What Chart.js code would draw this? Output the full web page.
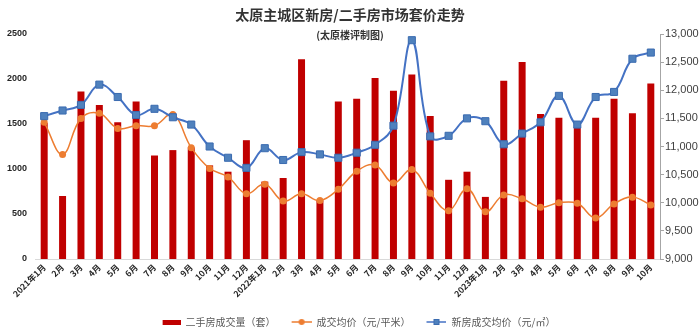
<!DOCTYPE html>
<html><head><meta charset="utf-8">
<script src="https://cdn.jsdelivr.net/npm/chart.js@4.4.0/dist/chart.umd.min.js"></script>
<style>html,body{margin:0;padding:0;background:#fff;}#wrap{position:relative;width:700px;height:330px;}</style>
</head><body><div id="wrap"><canvas id="c" width="700" height="330"></canvas></div>
<script>
const chartTitle = '太原主城区新房/二手房市场套价走势';
const chartSubtitle = '(太原楼评制图)';
const categories = ['2021年1月','2月','3月','4月','5月','6月','7月','8月','9月','10月','11月','12月',
  '2022年1月','2月','3月','4月','5月','6月','7月','8月','9月','10月','11月','12月',
  '2023年1月','2月','3月','4月','5月','6月','7月','8月','9月','10月'];
const seriesNames = ['二手房成交量（套）','成交均价（元/平米）','新房成交均价（元/㎡）'];
const secondHandVolume = [1510,700,1860,1710,1520,1750,1150,1210,1240,1040,970,1320,
  860,900,2220,650,1750,1780,2010,1870,2050,1590,880,970,
  690,1980,2190,1610,1570,1460,1570,1780,1620,1950];
const avgPrice = [11430,10860,11500,11590,11320,11370,11370,11570,10980,10610,10460,10160,
  10330,10030,10160,10040,10240,10560,10670,10350,10590,10170,9860,10250,
  9840,10140,10070,9920,10000,9990,9730,9980,10100,9960];
const newHousePrice = [11540,11640,11740,12100,11880,11560,11670,11520,11390,11000,10800,10620,
  10970,10760,10900,10860,10800,10890,11030,11370,12890,11180,11190,11500,
  11450,11040,11230,11430,11900,11390,11880,11970,12560,12670];
const leftTicks = [0,500,1000,1500,2000,2500];
const rightTicks = [9000,9500,10000,10500,11000,11500,12000,12500,13000];

const RED='#C00000', ORANGE='#ED7D31', BLUE='#4472C4';
function mkIcon(draw){const c=document.createElement('canvas');c.width=36;c.height=12;draw(c.getContext('2d'));return c;}
const icons=[
  mkIcon(x=>{x.fillStyle=RED;x.fillRect(18,4,18,5);}),
  mkIcon(x=>{x.strokeStyle=ORANGE;x.lineWidth=1.5;x.beginPath();x.moveTo(16,6);x.lineTo(36,6);x.stroke();x.fillStyle=ORANGE;x.beginPath();x.arc(26,6,3,0,Math.PI*2);x.fill();}),
  mkIcon(x=>{x.strokeStyle=BLUE;x.lineWidth=1.5;x.beginPath();x.moveTo(16,6);x.lineTo(36,6);x.stroke();x.fillStyle='#4F81BD';x.fillRect(23,3,6,6);x.strokeStyle='#3A6BB0';x.lineWidth=1;x.strokeRect(23.5,3.5,5,5);})
];

const titlePlugin={id:'titles',afterDraw(chart){const ctx=chart.ctx;ctx.save();ctx.textAlign='center';ctx.textBaseline='middle';ctx.fillStyle='#333333';
  ctx.font='bold 14px "Noto Sans CJK SC"';ctx.fillText(chartTitle,350,15);
  ctx.font='bold 10px "Noto Sans CJK SC"';ctx.fillText(chartSubtitle,350,35);ctx.restore();}};
const legendShift={id:'legendShift',afterLayout(chart){const l=chart.legend;if(l){l.top+=7;l.bottom+=7;}}};

new Chart(document.getElementById('c'),{
  type:'bar',
  data:{labels:categories,datasets:[
    {type:'bar',label:seriesNames[0],data:secondHandVolume,backgroundColor:RED,yAxisID:'y',order:3,barPercentage:0.38,categoryPercentage:1},
    {type:'line',label:seriesNames[1],data:avgPrice,borderColor:ORANGE,backgroundColor:ORANGE,borderWidth:1.5,pointRadius:3.5,pointStyle:'circle',pointBorderWidth:0,tension:0.4,yAxisID:'y2',order:2},
    {type:'line',label:seriesNames[2],data:newHousePrice,borderColor:BLUE,backgroundColor:'#4F81BD',pointBorderColor:'#3A6BB0',borderWidth:2,pointRadius:5,pointStyle:'rect',pointBorderWidth:1,tension:0.4,yAxisID:'y2',order:1}
  ]},
  options:{responsive:false,devicePixelRatio:1,animation:false,
    layout:{padding:{top:34,left:0,right:0,bottom:0}},
    plugins:{tooltip:{enabled:false},title:{display:false},
      legend:{position:'bottom',labels:{usePointStyle:true,pointStyleWidth:36,padding:0,color:'#595959',font:{family:'"Noto Sans CJK SC"',size:10},
        generateLabels(chart){return chart.data.datasets.map((d,i)=>({text:d.label,pointStyle:icons[i],fillStyle:'transparent',strokeStyle:'transparent',lineWidth:0,hidden:false,datasetIndex:i,fontColor:'#595959'}));}}}},
    scales:{
      x:{grid:{display:false,drawTicks:false},border:{display:true,color:'#D9D9D9',width:1},
        ticks:{autoSkip:false,maxRotation:45,minRotation:45,padding:3,color:'#262626',font:{family:'"Noto Sans CJK SC"',size:8.5,weight:'bold'}},
        afterFit(a){a.height=51;}},
      y:{position:'left',min:0,max:2500,afterBuildTicks(a){a.ticks=leftTicks.map(v=>({value:v}));},
        grid:{display:false,drawTicks:false},border:{display:false},
        ticks:{padding:8,color:'#262626',font:{family:'"Liberation Sans"',size:9,weight:'bold'},callback:v=>String(v)},
        afterFit(a){a.width=35;}},
      y2:{position:'right',min:9000,max:13000,afterBuildTicks(a){a.ticks=rightTicks.map(v=>({value:v}));},
        grid:{display:true,drawOnChartArea:false,drawTicks:true,tickLength:4,color:'#A6A6A6'},border:{display:true,color:'#A6A6A6'},
        ticks:{padding:1,color:'#404040',font:{family:'"Liberation Sans"',size:11},callback:v=>v.toLocaleString('en-US')},
        afterFit(a){a.width=40;}}
    }
  },
  plugins:[titlePlugin,legendShift]
});
</script></body></html>
